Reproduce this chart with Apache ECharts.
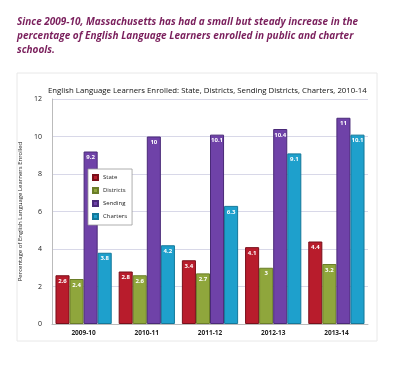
<!DOCTYPE html>
<html><head><meta charset="utf-8">
<script src="https://cdn.jsdelivr.net/npm/echarts@6/dist/echarts.min.js"></script>
<style>html,body{margin:0;padding:0;background:#fff}#c{width:400px;height:370px}</style>
</head><body><div id="c"></div>
<script>
const categories = ['2009-10','2010-11','2011-12','2012-13','2013-14'];
const state = [2.6, 2.8, 3.4, 4.1, 4.4];
const districts = [2.4, 2.6, 2.7, 3, 3.2];
const sending = [9.2, 10, 10.1, 10.4, 11];
const charters = [3.8, 4.2, 6.3, 9.1, 10.1];
const yTicks = [0, 2, 4, 6, 8, 10, 12];

const chart = echarts.init(document.getElementById('c'));
const lbl = {show:true, position:'insideTop', distance:3, color:'#fff', fontSize:6, fontWeight:'bold', fontFamily:'Open Sans'};
function s(name, data, color, border){
  return {name, type:'bar', data, barGap:'0%', barCategoryGap:'11%',
    itemStyle:{color, borderColor:border, borderWidth:1}, label:lbl};
}
chart.setOption({
  animation:false,
  title:[
    {text:'Since 2009-10, Massachusetts has had a small but steady increase in the\npercentage of English Language Learners enrolled in public and charter\nschools.',
     left:12, top:10, textStyle:{color:'#7a1f5c', fontSize:10, fontStyle:'italic', fontWeight:'bold', fontFamily:'Open Sans', lineHeight:14}},
    {text:'English Language Learners Enrolled: State, Districts, Sending Districts, Charters, 2010-14',
     left:43, top:82, textStyle:{color:'#111', fontSize:7.8, fontWeight:'normal', fontFamily:'Open Sans'}}
  ],
  graphic:[
    {type:'rect', shape:{x:17, y:73, width:360, height:268}, style:{fill:'none', stroke:'#e8e8e8', lineWidth:1}, z:-1}
  ],
  legend:{orient:'vertical', left:88, top:169, itemWidth:5, itemHeight:5, itemGap:6,
    padding:[5,5,5,4], borderColor:'#999', borderWidth:0.8, backgroundColor:'#fff',
    textStyle:{fontSize:6, color:'#222', fontFamily:'Open Sans'}, icon:'rect',
    data:['State','Districts','Sending','Charters']},
  grid:{left:52, right:32, top:99, bottom:46},
  xAxis:{type:'category', data:categories,
    axisLine:{lineStyle:{color:'#bbb'}}, axisTick:{show:false},
    axisLabel:{fontSize:6.5, fontWeight:'bold', color:'#222', margin:6, fontFamily:'Open Sans'}},
  yAxis:{type:'value', min:0, max:12, interval:2,
    name:'Percentage of English Language Learners Enrolled', nameLocation:'middle', nameGap:19,
    nameTextStyle:{fontSize:6, color:'#222', fontFamily:'Open Sans'},
    axisLine:{show:true, lineStyle:{color:'#bbb'}}, axisTick:{show:false},
    axisLabel:{fontSize:7, color:'#222', margin:10, fontFamily:'Open Sans', formatter:v=>yTicks.includes(v)?String(v):''},
    splitLine:{lineStyle:{color:'#d8d8e8'}}},
  series:[
    s('State', state, '#b81c2c', '#7a0f1a'),
    s('Districts', districts, '#8fa63c', '#6a7d28'),
    s('Sending', sending, '#6f42a8', '#4a2a78'),
    s('Charters', charters, '#1ea0cc', '#14789a')
  ]
});
</script></body></html>
